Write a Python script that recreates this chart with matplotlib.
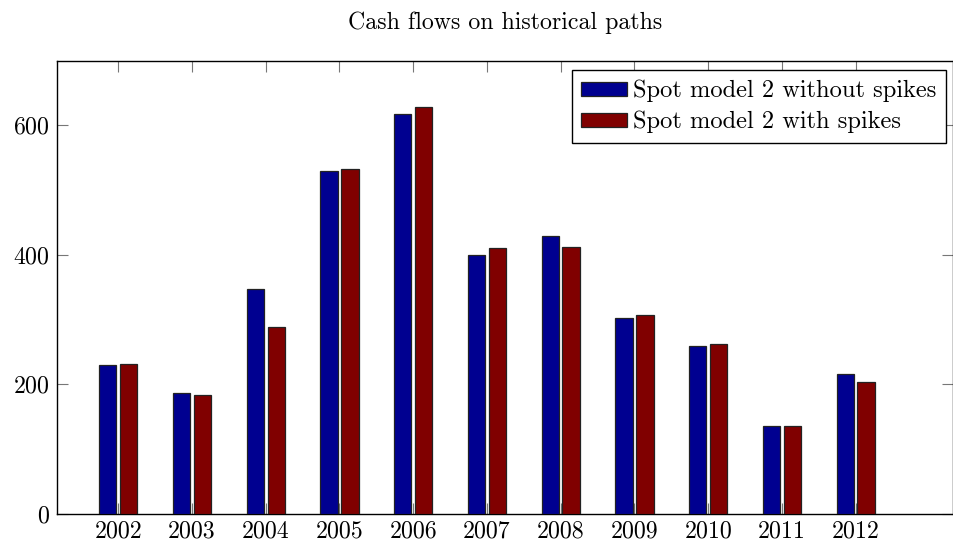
import matplotlib
matplotlib.use('Agg')
import matplotlib.pyplot as plt
import numpy as np

plt.rcParams['font.family'] = ['cmr10', 'DejaVu Serif']
plt.rcParams['axes.formatter.use_mathtext'] = True
plt.rcParams['mathtext.fontset'] = 'cm'

# 数据
years = [2002, 2003, 2004, 2005, 2006, 2007, 2008, 2009, 2010, 2011, 2012]
no_spikes = [230, 186, 347, 529, 617, 400, 429, 303, 259, 135, 216]
with_spikes = [232, 184, 289, 533, 628, 410, 412, 307, 262, 135, 203]

FS = 17.2
LEG_FS = 17.6
BLUE = '#000090'
RED = '#800000'

fig = plt.figure(figsize=(9.54, 5.47), dpi=100)
ax = fig.add_axes([0.0594, 0.0609, 0.9396, 0.8281])

x = np.array(years, dtype=float)
w = 0.236
off = 0.142
ax.bar(x - off, no_spikes, width=w, color=BLUE, edgecolor='#222222',
       linewidth=0.9, label='Spot model 2 without spikes', zorder=3)
ax.bar(x + off, with_spikes, width=w, color=RED, edgecolor='#222222',
       linewidth=0.9, label='Spot model 2 with spikes', zorder=3)

ax.set_xlim(2001.165, 2013.32)
ax.set_ylim(0, 700)
ax.set_xticks(years)
ax.set_xticklabels([str(y) for y in years])
ax.set_yticks([0, 200, 400, 600])

ax.tick_params(direction='in', length=8, width=0.8, color='#777777',
               top=True, right=True, labelsize=FS, pad=5)
for s in ax.spines.values():
    s.set_color('black')
    s.set_linewidth(1.0)

ax.set_title('Cash flows on historical paths', fontsize=FS, pad=23)

leg = ax.legend(loc='upper right', bbox_to_anchor=(0.992, 0.9795),
                fontsize=LEG_FS, fancybox=False, framealpha=1, edgecolor='black',
                handlelength=1.88, handleheight=0.5, handletextpad=0.22,
                borderpad=0.4, labelspacing=0.35, borderaxespad=0)
leg.get_frame().set_linewidth(1.0)

plt.savefig('out.png', dpi=100)
print('done')
